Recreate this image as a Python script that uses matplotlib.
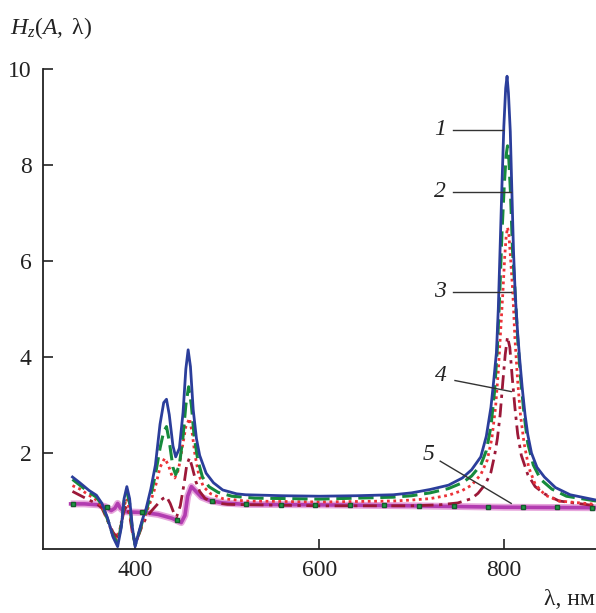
import numpy as np
import matplotlib
matplotlib.use("Agg")
import matplotlib.pyplot as plt

plt.rcParams["font.family"] = ["Liberation Serif", "DejaVu Serif"]
plt.rcParams["mathtext.fontset"] = "custom"
plt.rcParams["mathtext.rm"] = "Liberation Serif"
plt.rcParams["mathtext.it"] = "Liberation Serif:italic"

# curve 1 (blue, solid)
wl1 = [332, 340, 350, 358, 364, 370, 376, 381, 385, 388, 391, 394, 397, 400,
       404, 408, 412, 417, 422, 427, 431, 434, 437, 441, 444, 448, 452, 455,
       457.5, 460, 463, 466.5, 470, 477, 485, 495, 510, 520, 560, 600, 640,
       680, 700, 720, 740, 755, 765, 775, 781, 786, 789, 792, 794, 796, 798,
       800, 802, 803.5, 805, 807, 808.8, 810.5, 812.5, 815, 817, 820, 823,
       826, 830, 836, 844, 856, 872, 900]
h1 = [1.50, 1.38, 1.22, 1.12, 0.95, 0.65, 0.25, 0.05, 0.45, 1.05, 1.30, 1.05,
      0.45, 0.05, 0.35, 0.62, 0.85, 1.25, 1.75, 2.60, 3.05, 3.12, 2.80, 2.15,
      1.92, 2.10, 2.85, 3.75, 4.15, 3.80, 2.90, 2.30, 1.95, 1.58, 1.38, 1.23,
      1.15, 1.13, 1.11, 1.10, 1.11, 1.13, 1.17, 1.24, 1.33, 1.48, 1.65, 1.92,
      2.35, 2.95, 3.50, 4.10, 5.00, 6.30, 7.60, 8.80, 9.60, 9.85, 9.50, 8.70,
      7.40, 6.20, 5.25, 4.50, 4.00, 3.35, 2.80, 2.38, 2.00, 1.70, 1.50, 1.28,
      1.13, 1.02]

# curve 2 (green, dashed)
wl2 = [332, 340, 350, 358, 364, 370, 376, 381, 385, 388, 391, 394, 397, 400,
       404, 408, 412, 417, 422, 427, 431, 434, 437, 441, 444, 448, 452, 455,
       458, 461, 464, 468, 473, 480, 490, 505, 530, 600, 680, 700, 720, 740,
       755, 765, 775, 781, 786, 790, 793, 795.5, 798, 800.5, 802.5, 804,
       805.5, 807.2, 809.5, 812.2, 815, 818, 822, 826, 832, 840, 852, 868, 900]
h2 = [1.45, 1.33, 1.18, 1.08, 0.92, 0.62, 0.28, 0.12, 0.50, 1.00, 1.20, 0.95,
      0.40, 0.08, 0.32, 0.58, 0.80, 1.12, 1.55, 2.10, 2.45, 2.55, 2.25, 1.70,
      1.55, 1.75, 2.35, 3.00, 3.38, 3.00, 2.35, 1.85, 1.50, 1.30, 1.18, 1.10,
      1.06, 1.04, 1.08, 1.11, 1.17, 1.26, 1.38, 1.52, 1.75, 2.05, 2.55, 3.30,
      4.20, 5.30, 6.60, 7.60, 8.20, 8.40, 8.10, 7.44, 6.20, 5.36, 4.40, 3.60,
      2.80, 2.20, 1.75, 1.45, 1.25, 1.10, 1.00]

# curve 3 (red, dotted)
wl3 = [332, 340, 350, 358, 364, 370, 376, 380, 384, 388, 391, 394, 397, 400,
       404, 408, 412, 417, 422, 427, 432, 436, 440, 443, 447, 451, 455, 459,
       462, 465, 469, 474, 482, 495, 520, 600, 680, 700, 720, 740, 755, 765,
       775, 782, 787, 791, 794, 797, 799, 801, 802.5, 804, 805.5, 807.5, 809.7,
       812, 815, 818, 822, 827, 834, 845, 860, 900]
h3 = [1.32, 1.25, 1.12, 1.02, 0.88, 0.60, 0.30, 0.20, 0.45, 0.90, 1.05, 0.80,
      0.35, 0.10, 0.30, 0.55, 0.75, 1.00, 1.30, 1.70, 1.89, 1.75, 1.52, 1.48,
      1.65, 2.10, 2.55, 2.72, 2.40, 1.95, 1.55, 1.30, 1.15, 1.05, 1.00, 0.98,
      1.00, 1.02, 1.05, 1.12, 1.22, 1.33, 1.55, 1.85, 2.30, 2.95, 3.70, 4.70,
      5.36, 6.10, 6.50, 6.70, 6.55, 6.00, 5.36, 4.40, 3.50, 2.80, 2.20, 1.70,
      1.35, 1.12, 1.00, 0.93]

# curve 4 (dark red, dash-dot)
wl4 = [332, 340, 350, 358, 364, 370, 376, 380, 384, 388, 391, 394, 397, 400,
       404, 408, 412, 418, 425, 430, 434, 438, 442, 445, 449, 453, 456, 459,
       462, 466, 470, 476, 485, 500, 600, 700, 730, 750, 765, 772, 780, 786,
       790, 793, 796, 799, 801.5, 804, 806.5, 809, 812, 815, 819, 826, 834,
       844, 860, 900]
h4 = [1.20, 1.12, 1.02, 0.95, 0.85, 0.60, 0.35, 0.25, 0.45, 0.80, 0.90, 0.70,
      0.35, 0.12, 0.30, 0.50, 0.65, 0.80, 0.95, 1.05, 1.09, 0.95, 0.75, 0.67,
      0.90, 1.35, 1.75, 1.90, 1.70, 1.40, 1.20, 1.05, 0.97, 0.93, 0.90, 0.90,
      0.92, 0.96, 1.05, 1.16, 1.35, 1.60, 1.95, 2.30, 2.80, 3.50, 4.05, 4.42,
      4.20, 3.60, 2.95, 2.40, 1.95, 1.55, 1.30, 1.15, 1.00, 0.90]

# curve 5 (magenta, thick)
wl5 = [330, 345, 360, 368, 374, 378, 381, 384, 388, 395, 410, 425, 440, 450,
       454, 457, 461, 466, 472, 481, 495, 520, 600, 700, 800, 900]
h5 = [0.94, 0.94, 0.92, 0.88, 0.80, 0.85, 0.95, 0.85, 0.78, 0.77, 0.76, 0.72,
      0.64, 0.55, 0.70, 1.10, 1.30, 1.20, 1.08, 1.01, 0.96, 0.93, 0.92, 0.90,
      0.87, 0.86]

# green square markers sitting on curve 5
mk_wl = [333, 370, 407, 445, 483, 520, 558, 595, 633, 670, 708, 746, 783,
         821, 858, 896]
mk_h = [0.94, 0.88, 0.77, 0.60, 1.01, 0.93, 0.92, 0.92, 0.91, 0.91, 0.90,
        0.89, 0.88, 0.87, 0.87, 0.86]

fig = plt.figure(figsize=(5.96, 6.13), dpi=100)
ax = fig.add_axes([0.0721, 0.1044, 0.9279, 0.7830])

ax.plot(wl5, h5, color="#e7a6dc", lw=5.0, solid_capstyle="butt", zorder=2)
ax.plot(wl5, h5, color="#b23cb0", lw=2.6, zorder=2)
ax.plot(mk_wl, mk_h, ls="none", marker="s", ms=3.5, color="#1f9a45",
        markeredgecolor="#145c2c", zorder=6)
ax.plot(wl4, h4, color="#9c1838", lw=2.0, ls=(0, (5, 2, 1.2, 2)), zorder=3)
ax.plot(wl3, h3, color="#ec3238", lw=2.0, ls=(0, (1, 1.3)), zorder=4)
ax.plot(wl2, h2, color="#168a3c", lw=2.2, ls=(0, (5, 2.2)), zorder=4)
ax.plot(wl1, h1, color="#2b3e9b", lw=2.0, zorder=5)

ax.set_xlim(300, 900)
ax.set_ylim(0, 10)
ax.set_xticks([400, 600, 800])
ax.set_yticks([2, 4, 6, 8, 10])
ax.tick_params(direction="in", length=7, width=1.2, labelsize=17,
               colors="#222222", pad=8)
for s in ["top", "right"]:
    ax.spines[s].set_visible(False)
for s in ["left", "bottom"]:
    ax.spines[s].set_linewidth(1.3)
    ax.spines[s].set_color("#222222")

# curve numbers with leader lines
labels = ["1", "2", "3", "4", "5"]
lab_xy = [(731, 8.73), (731, 7.44), (731, 5.36), (732, 3.62), (718, 1.96)]
lead_from = [(745, 8.73), (745, 7.44), (745, 5.36), (747, 3.51), (731, 1.83)]
lead_to = [(799, 8.73), (808, 7.44), (808, 5.36), (808, 3.28), (808, 0.95)]
for t, p, a, b in zip(labels, lab_xy, lead_from, lead_to):
    ax.plot([a[0], b[0]], [a[1], b[1]], color="#333333", lw=1.0, zorder=7)
    ax.text(p[0], p[1], t, fontsize=17, style="italic", ha="center",
            va="center", color="#222222")

fig.text(0.017, 0.955, r"$H_z(A,\ \mathrm{\lambda})$", fontsize=17,
         ha="left", va="center", color="#222222")
fig.text(0.998, 0.022, "λ, нм", fontsize=17, ha="right", va="center",
         color="#222222")

fig.savefig("out.png", dpi=100)
